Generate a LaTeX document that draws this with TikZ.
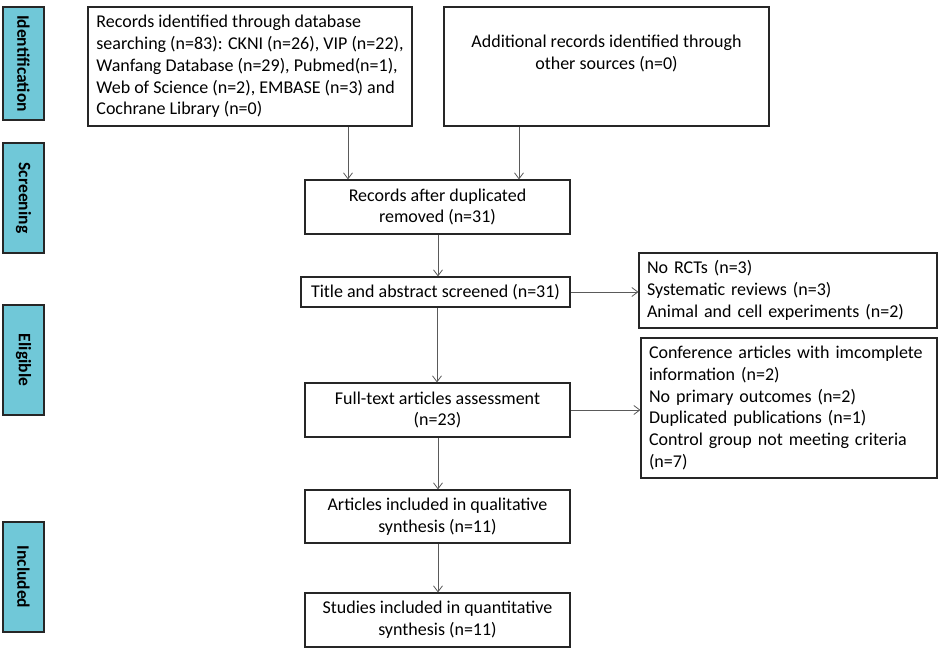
\documentclass[tikz,border=0pt]{standalone}
\usepackage{fontspec}
\setmainfont{Carlito}
\usetikzlibrary{arrows.meta}
\definecolor{phase}{RGB}{112,200,216}
\definecolor{linegray}{RGB}{90,90,90}
\begin{document}
\begin{tikzpicture}[x=1pt,y=-1pt,
  phasebox/.style={draw=black!85,line width=1.2pt,fill=phase,minimum width=41pt,inner sep=0pt,
    font=\fontsize{17.5}{20}\selectfont\bfseries},
  flowbox/.style={draw=black!85,line width=1.1pt,inner sep=0pt,align=center,
    font=\fontsize{18}{21.7}\selectfont},
  listbox/.style={draw=black!85,line width=1.1pt,inner xsep=8pt,inner ysep=0pt,align=left,
    font=\fontsize{18}{21.7}\selectfont},
  arr/.style={draw=linegray,line width=0.8pt,-{Straight Barb[length=6pt,width=9pt]}}]
\useasboundingbox (0,0) rectangle (941,651);
% phase labels
\node[phasebox,minimum height=113pt] (id) at (23.5,63.5) {\rotatebox{-90}{Identification}};
\node[phasebox,minimum height=110pt] (scr) at (23.5,198) {\rotatebox{-90}{Screening}};
\node[phasebox,minimum height=110pt] (eli) at (23.5,360) {\rotatebox{-90}{Eligible}};
\node[phasebox,minimum height=110pt] (inc) at (23.5,577) {\rotatebox{-90}{Included}};
% flow boxes
\node[listbox,inner xsep=0pt,minimum width=324pt,minimum height=119pt] (rec) at (250,66.5)
  {Records identified through database\\searching (n=83): CKNI (n=26), VIP (n=22),\\Wanfang Database (n=29), Pubmed(n=1),\\Web of Science (n=2), EMBASE (n=3) and\\Cochrane Library (n=0)};
\node[flowbox,minimum width=325pt,minimum height=119pt] (add) at (606.5,66.5)
  {Additional records identified through\\other sources (n=0)\\\strut};
\node[flowbox,minimum width=265pt,minimum height=54pt] (dup) at (437.5,207)
  {Records after duplicated\\removed (n=31)};
\node[flowbox,minimum width=269pt,minimum height=30pt] (tas) at (435.5,292)
  {Title and abstract screened (n=31)};
\node[flowbox,minimum width=265pt,minimum height=54pt] (ft) at (437.5,410)
  {Full-text articles assessment\\(n=23)};
\node[flowbox,minimum width=265pt,minimum height=53pt] (aq) at (437.5,516.5)
  {Articles included in qualitative\\synthesis (n=11)};
\node[flowbox,minimum width=265pt,minimum height=54pt] (sq) at (437.5,620)
  {Studies included in quantitative\\synthesis (n=11)};
\node[listbox,minimum width=298pt,minimum height=75pt,text width=282pt] (ex1) at (788,290.5)
  {No RCTs (n=3)\\Systematic reviews (n=3)\\Animal and cell experiments (n=2)};
\node[listbox,minimum width=296pt,minimum height=140pt,text width=280pt] (ex2) at (789,408)
  {Conference articles with imcomplete\\information (n=2)\\No primary outcomes (n=2)\\Duplicated publications (n=1)\\Control group not meeting criteria\\(n=7)};
% connectors
\draw[arr] (348,0 |- rec.south) -- (348,0 |- dup.north);
\draw[arr] (519,0 |- add.south) -- (519,0 |- dup.north);
\draw[arr] (438,0 |- dup.south) -- (438,0 |- tas.north);
\draw[arr] (437,0 |- tas.south) -- (437,0 |- ft.north);
\draw[arr] (tas.east) -- (tas.east -| ex1.west);
\draw[arr] (ft.east) -- (ft.east -| ex2.west);
\draw[arr] (438,0 |- ft.south) -- (438,0 |- aq.north);
\draw[arr] (438,0 |- aq.south) -- (438,0 |- sq.north);
\end{tikzpicture}
\end{document}
